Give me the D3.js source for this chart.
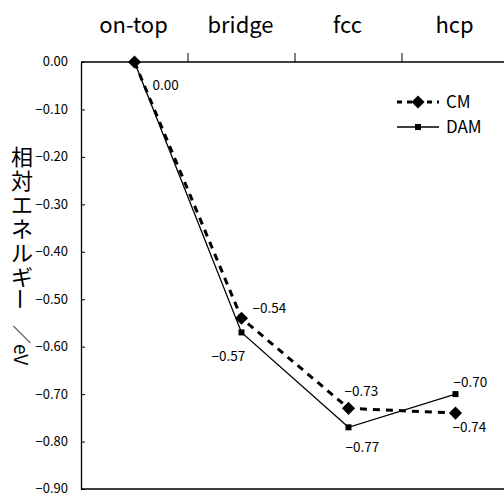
<!doctype html>
<html lang="ja">
<head>
<meta charset="utf-8">
<title>相対エネルギー</title>
<script src="https://cdn.jsdelivr.net/npm/d3@7"></script>
<style>
    body { margin: 0; background: #fff; }
    text { font-family: "Noto Sans CJK JP", "Liberation Sans", sans-serif; fill: #000; }
</style>
</head>
<body>
<svg id="chart"></svg>
<script>
    // data
    const sites = ["on-top", "bridge", "fcc", "hcp"];
    const cmValues = [0.00, -0.54, -0.73, -0.74];
    const damValues = [0.00, -0.57, -0.77, -0.70];
    const yTicks = [0, -0.1, -0.2, -0.3, -0.4, -0.5, -0.6, -0.7, -0.8, -0.9];
    const seriesNames = ["CM", "DAM"];
    const yTitle = "相対エネルギ";
    const yTitleBar = "ー";
    const yUnit = "／eV";

    const W = 504, H = 496;
    const margin = { top: 62, right: -5, bottom: 7, left: 81 };

    const svg = d3.select("#chart").attr("width", W).attr("height", H);

    const x = d3.scaleBand().domain(sites).range([margin.left, W - margin.right]);
    const y = d3.scaleLinear().domain([0, -0.9]).range([margin.top, H - margin.bottom]);
    const fmt = d3.format(".2f");

    // left axis, ticks pointing inside
    const yAxis = svg.append("g")
        .attr("transform", `translate(${margin.left},0)`)
        .call(d3.axisLeft(y).tickValues(yTicks).tickSize(-4).tickSizeOuter(0).tickPadding(13).tickFormat(fmt));
    yAxis.select(".domain").attr("stroke-width", 1.3);
    yAxis.selectAll("text").attr("font-size", 13).attr("font-family", null).attr("dy", "0.3em");

    // top line with category boundary ticks
    svg.append("line")
        .attr("x1", margin.left).attr("x2", W)
        .attr("y1", y(0)).attr("y2", y(0))
        .attr("stroke", "#000").attr("stroke-width", 1.3);
    svg.append("g").selectAll("line")
        .data(sites.slice(1))
        .join("line")
        .attr("x1", d => x(d)).attr("x2", d => x(d))
        .attr("y1", y(0)).attr("y2", y(0) - 9)
        .attr("stroke", "#000").attr("stroke-width", 1);

    // bottom line
    svg.append("line")
        .attr("x1", margin.left).attr("x2", W)
        .attr("y1", y(-0.9)).attr("y2", y(-0.9))
        .attr("stroke", "#000").attr("stroke-width", 1.3);

    // category labels on top
    svg.append("g").selectAll("text")
        .data(sites)
        .join("text")
        .attr("x", d => x(d) + x.bandwidth() / 2 - 1)
        .attr("y", 33)
        .attr("text-anchor", "middle")
        .attr("font-size", 22)
        .text(d => d);

    // y title, stacked characters in one text; the long vowel mark turned upright
    svg.append("text")
        .attr("text-anchor", "middle")
        .attr("dominant-baseline", "central")
        .attr("font-size", 22)
        .selectAll("tspan")
        .data(Array.from(yTitle))
        .join("tspan")
        .attr("x", 22)
        .attr("y", (d, i) => 155 + i * 24)
        .text(d => d);
    svg.append("text")
        .attr("transform", `translate(22,${155 + yTitle.length * 24}) rotate(90)`)
        .attr("text-anchor", "middle")
        .attr("dominant-baseline", "central")
        .attr("font-size", 22)
        .text(yTitleBar);
    svg.append("text")
        .attr("transform", "translate(22,325) rotate(90)")
        .attr("dominant-baseline", "central")
        .attr("font-size", 19)
        .text(yUnit);

    const cx = d => x(d) + x.bandwidth() / 2;
    const line = d3.line().x((d, i) => cx(sites[i])).y(d => y(d));

    // DAM series, solid line with small squares
    svg.append("path")
        .datum(damValues)
        .attr("d", line)
        .attr("fill", "none").attr("stroke", "#000").attr("stroke-width", 1.3);
    svg.append("g").selectAll("rect")
        .data(damValues)
        .join("rect")
        .attr("x", (d, i) => cx(sites[i]) - 3)
        .attr("y", d => y(d) - 3)
        .attr("width", 6).attr("height", 6)
        .attr("fill", "#000");

    // CM series, thick dashed line with diamonds
    svg.append("path")
        .datum(cmValues)
        .attr("d", line)
        .attr("fill", "none").attr("stroke", "#000").attr("stroke-width", 3)
        .attr("stroke-dasharray", "7,6");
    const diamond = d3.symbol().type(d3.symbolDiamond2).size(110);
    svg.append("g").selectAll("path")
        .data(cmValues)
        .join("path")
        .attr("d", diamond)
        .attr("transform", (d, i) => `translate(${cx(sites[i])},${y(d)})`)
        .attr("fill", "#000");

    // value labels
    const labelFont = 13.5;
    const cmOffsets = [[18, 28], [11, -5], [-4, -12], [-3, 19]];
    const damOffsets = [[0, 0], [-30, 29], [-3, 25], [-2, -7]];
    svg.append("g").selectAll("text")
        .data(cmValues)
        .join("text")
        .attr("x", (d, i) => cx(sites[i]) + cmOffsets[i][0])
        .attr("y", (d, i) => y(d) + cmOffsets[i][1])
        .attr("font-size", labelFont)
        .text(d => fmt(d));
    svg.append("g").selectAll("text")
        .data(damValues.slice(1))
        .join("text")
        .attr("x", (d, i) => cx(sites[i + 1]) + damOffsets[i + 1][0])
        .attr("y", (d, i) => y(d) + damOffsets[i + 1][1])
        .attr("font-size", labelFont)
        .text(d => fmt(d));

    // legend
    const lg = svg.append("g").attr("transform", "translate(397,102)");
    lg.append("line").attr("x1", 0).attr("x2", 42).attr("y1", 0).attr("y2", 0)
        .attr("stroke", "#000").attr("stroke-width", 3).attr("stroke-dasharray", "5,5");
    lg.append("path").attr("d", diamond).attr("transform", "translate(21,0)").attr("fill", "#000");
    lg.append("line").attr("x1", 0).attr("x2", 42).attr("y1", 25).attr("y2", 25)
        .attr("stroke", "#000").attr("stroke-width", 1.3);
    lg.append("rect").attr("x", 18).attr("y", 22).attr("width", 6).attr("height", 6).attr("fill", "#000");
    lg.selectAll("text.lab")
        .data(seriesNames)
        .join("text")
        .attr("x", 49)
        .attr("y", (d, i) => i * 25 + 6)
        .attr("font-size", 17)
        .text(d => d);
</script>
</body>
</html>
